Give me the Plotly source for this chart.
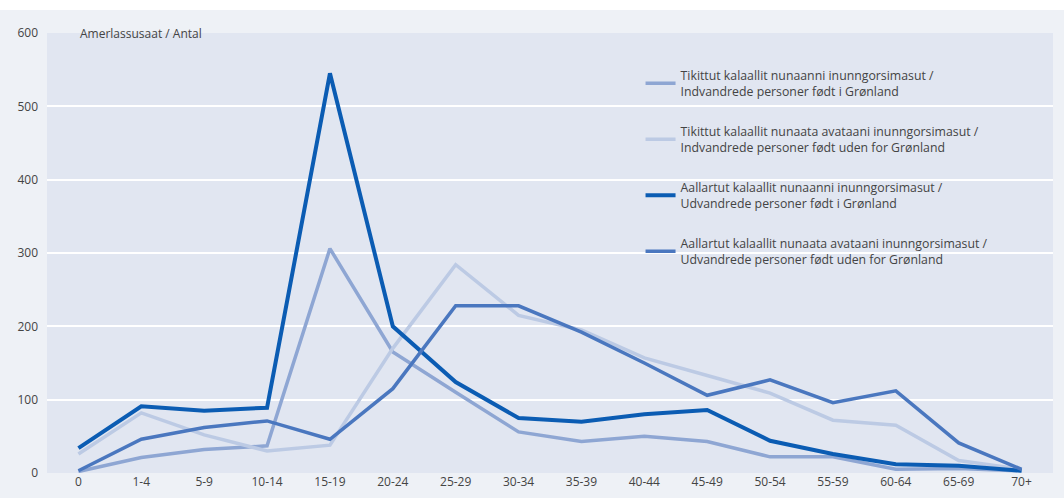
import plotly.graph_objects as go

categories = ["0", "1-4", "5-9", "10-14", "15-19", "20-24", "25-29", "30-34",
              "35-39", "40-44", "45-49", "50-54", "55-59", "60-64", "65-69", "70+"]

imm_born_gl = [2, 21, 32, 37, 306, 165, 110, 56, 43, 50, 43, 22, 22, 5, 6, 3]
imm_born_out = [26, 82, 52, 30, 38, 170, 284, 215, 195, 157, 133, 109, 72, 65, 17, 5]
emi_born_gl = [34, 91, 85, 89, 545, 200, 124, 75, 70, 80, 86, 44, 26, 12, 10, 3]
emi_born_out = [3, 46, 62, 71, 46, 115, 228, 228, 192, 150, 106, 127, 96, 112, 41, 5]

names = [
    "Tikittut kalaallit nunaanni inunngorsimasut /<br>Indvandrede personer født i Grønland",
    "Tikittut kalaallit nunaata avataani inunngorsimasut /<br>Indvandrede personer født uden for Grønland",
    "Aallartut kalaallit nunaanni inunngorsimasut /<br>Udvandrede personer født i Grønland",
    "Aallartut kalaallit nunaata avataani inunngorsimasut /<br>Udvandrede personer født uden for Grønland",
]
series = [imm_born_gl, imm_born_out, emi_born_gl, emi_born_out]
colors = ["#8ea6d3", "#bccae4", "#0b5cb3", "#4a77bf"]
widths = [3.5, 3.5, 4, 3.5]

fig = go.Figure()
for i, (nm, vals, c, w) in enumerate(zip(names, series, colors, widths)):
    fig.add_trace(go.Scatter(x=categories, y=vals, mode="lines", name=nm,
                             line=dict(color=c, width=w), legendgroup=f"g{i}"))

font_family = "Open Sans, Noto Sans, sans-serif"

fig.update_layout(
    width=1064, height=498,
    margin=dict(l=47, r=11, t=33, b=25),
    paper_bgcolor="#eef1f6",
    plot_bgcolor="#e1e6f1",
    font=dict(family=font_family, size=12, color="#444444"),
    showlegend=True,
    legend=dict(x=0.59, y=0.937, xanchor="left", yanchor="top",
                bgcolor="rgba(0,0,0,0)", tracegroupgap=21,
                font=dict(size=12.3, color="#444444"), itemwidth=30),
    xaxis=dict(type="category", range=[-0.5, 15.5], showgrid=False,
               zeroline=False, showline=False, ticks="", automargin=False,
               tickfont=dict(size=12, color="#444444")),
    yaxis=dict(range=[0, 600], dtick=100, showgrid=True, gridcolor="#ffffff",
               gridwidth=1.5, zeroline=False, showline=False, ticks="",
               automargin=False, ticklabelstandoff=8,
               tickfont=dict(size=12, color="#444444")),
    shapes=[dict(type="rect", xref="paper", yref="paper", x0=-0.06, x1=1.02,
                 y0=1.052, y1=1.08, fillcolor="#ffffff", line=dict(width=0),
                 layer="below")],
    annotations=[dict(text="Amerlassusaat / Antal", xref="paper", yref="paper",
                      x=0.031, y=1.0, xanchor="left", yanchor="middle",
                      showarrow=False, font=dict(size=12, color="#444444"))],
)

fig.write_html("out.html", config={"displayModeBar": False},
               post_script="document.body.style.margin='0';document.body.style.padding='0';")
